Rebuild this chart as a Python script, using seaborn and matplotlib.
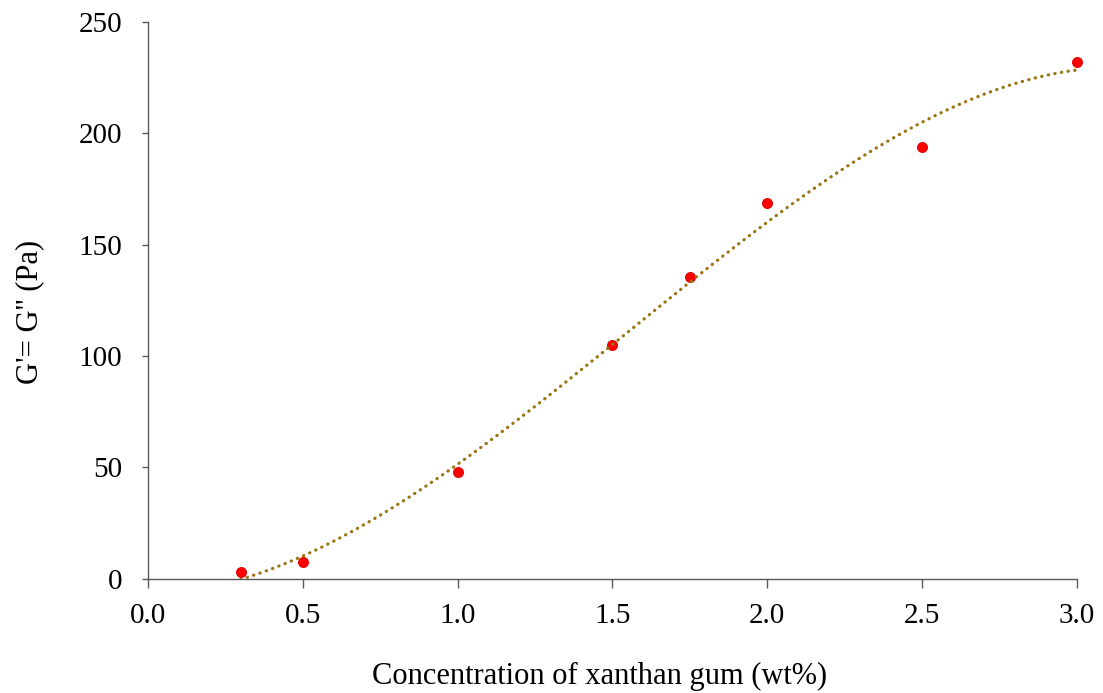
import numpy as np
import pandas as pd
import seaborn as sns
from matplotlib import pyplot as plt

# xanthan gum concentration (wt%) and crossover modulus G'=G'' (Pa)
concentration = [0.3, 0.5, 1.0, 1.5, 1.75, 2.0, 2.5, 3.0]
modulus = [2.8, 7.3, 48.0, 104.8, 135.7, 168.7, 194.0, 232.1]

x_ticks = [0.0, 0.5, 1.0, 1.5, 2.0, 2.5, 3.0]
y_ticks = [0, 50, 100, 150, 200, 250]

df = pd.DataFrame({'conc': concentration, 'G': modulus})

sns.set_style('white')
plt.rcParams['font.family'] = ['Liberation Serif', 'DejaVu Serif']

fig = plt.figure(figsize=(11.03, 6.93), dpi=100)
ax = fig.add_axes([0.134, 0.165, 0.8425, 0.803])

sns.scatterplot(data=df, x='conc', y='G', ax=ax, color='#FF0000',
                edgecolor='#E00000', linewidth=0.8, s=50, zorder=3, clip_on=False)

# polynomial (3rd order) trendline, like the spreadsheet one
sns.regplot(data=df, x='conc', y='G', ax=ax, order=3, ci=None, scatter=False,
            truncate=True,
            line_kws=dict(color='#9A7410', lw=2.3, linestyle=(0, (0.1, 2.0)),
                          dash_capstyle='round', zorder=4))

ax.set_xlim(0, 3)
ax.set_ylim(0, 250)
ax.set_xticks(x_ticks)
ax.set_xticklabels([f'{t:.1f}' for t in x_ticks])
ax.set_yticks(y_ticks)

for s in ['top', 'right']:
    ax.spines[s].set_visible(False)
for s in ['left', 'bottom']:
    ax.spines[s].set_color('#595959')
    ax.spines[s].set_linewidth(1.0)

ax.tick_params(axis='x', direction='out', length=6.8, width=1.0, color='#595959',
               labelsize=21, labelcolor='black', pad=11, bottom=True)
ax.tick_params(axis='y', direction='out', length=4.5, width=1.0, color='#595959',
               labelsize=21, labelcolor='black', pad=14, left=True)

ax.set_xlabel('Concentration of xanthan gum (wt%)', fontsize=22, color='black')
ax.set_ylabel("G'= G'' (Pa)", fontsize=22, color='black')
ax.xaxis.set_label_coords(0.4866, -0.175)
ax.xaxis.label.set_va('center')
ax.yaxis.set_label_coords(-0.127, 0.479)
ax.yaxis.label.set_va('center')

fig.savefig('out.png', dpi=100)
